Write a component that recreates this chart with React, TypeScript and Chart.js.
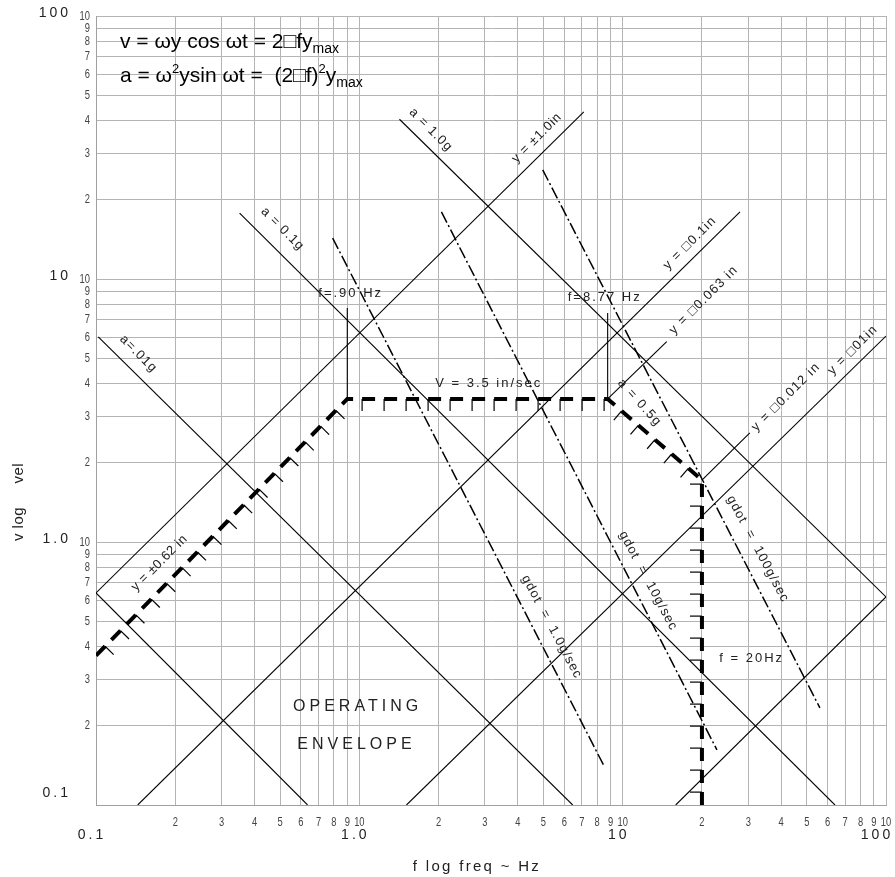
import { useEffect, useRef } from "react";
import { Chart, registerables } from "chart.js";
Chart.register(...registerables);

// ---------------- data ----------------
const DECADE_STARTS = [0.1, 1, 10];
const MINOR_MULTIPLIERS = [1, 2, 3, 4, 5, 6, 7, 8, 9];
const MINOR_TICK_LABELS = ["2", "3", "4", "5", "6", "7", "8", "9", "10"];
const MAJOR_TICK_VALUES = [0.1, 1, 10, 100];
const MAJOR_X_LABELS = ["0.1", "1.0", "10", "100"];
const MAJOR_Y_LABELS = ["0.1", "1.0", "10", "100"];

// constant displacement lines (solid)
const DISP_NAMES = ["y = ±1.0in", "y = 0.1in", "y = .01in", "y = .001in", "y = 0.063in", "y = 0.012in"];
const DISP_FREQ = [[0.1, 7.12], [0.144, 27.9], [1.51, 100], [15.9, 100], [8.77, 14.7], [20, 30.4]];
const DISP_VEL = [[0.64, 43.2], [0.1, 18.0], [0.1, 6.07], [0.1, 0.618], [3.5, 5.78], [1.72, 2.6]];

// constant acceleration lines (solid)
const ACC_NAMES = ["a = .001g", "a = .01g", "a = 0.1g", "a = 1.0g"];
const ACC_FREQ = [[0.1, 0.636], [0.102, 6.46], [0.351, 64.0], [1.42, 100]];
const ACC_VEL = [[0.64, 0.1], [6.02, 0.1], [17.8, 0.1], [40.5, 0.618]];

// constant gdot lines (dash-dot)
const JERK_NAMES = ["gdot = 1.0g/sec", "gdot = 10g/sec", "gdot = 100g/sec"];
const JERK_FREQ = [[0.792, 8.55], [2.05, 22.8], [4.97, 56.1]];
const JERK_VEL = [[14.3, 0.139], [18.0, 0.162], [26.0, 0.234]];

// frequency marker lines
const MARK_FREQ = [0.9, 8.77];
const MARK_VEL = [[3.5, 7.76], [3.5, 7.42]];

// operating envelope
const ENV_FREQ = [0.1, 0.9, 8.77, 20, 20];
const ENV_VEL = [0.37, 3.5, 3.5, 1.72, 0.1];

// annotation texts
const ANNOTATIONS = [
  { text: "a = 1.0g", f: 1.87, v: 36.9, rot: 45, sp: 1 },
  { text: "y = ±1.0in", f: 4.72, v: 34.4, rot: -45, sp: 0.8 },
  { text: "a = 0.1g", f: 0.511, v: 15.5, rot: 45, sp: 1 },
  { text: "a=.01g", f: 0.145, v: 5.19, rot: 45, sp: 1.2 },
  { text: "y = ±0.62 in", f: 0.174, v: 0.832, rot: -45, sp: 0.5 },
  { text: "f=.90 Hz", f: 0.927, v: 8.85, rot: 0, sp: 2 },
  { text: "f=8.77 Hz", f: 8.55, v: 8.54, rot: 0, sp: 2 },
  { text: "V = 3.5 in/sec", f: 3.1, v: 4.02, rot: 0, sp: 2 },
  { text: "y = □0.1in", f: 18.0, v: 13.7, rot: -45, sp: 1.2 },
  { text: "y = □0.063 in", f: 20.3, v: 8.32, rot: -45, sp: 1.2 },
  { text: "a = 0.5g", f: 11.6, v: 3.38, rot: 48, sp: 1.5 },
  { text: "y = □0.012 in", f: 41.7, v: 3.56, rot: -45, sp: 1.2 },
  { text: "y = □01in", f: 74.8, v: 5.37, rot: -45, sp: 1.2 },
  { text: "gdot  =  1.0g/sec", f: 5.38, v: 0.475, rot: 62, sp: 1.1 },
  { text: "gdot  =  10g/sec", f: 12.5, v: 0.711, rot: 62, sp: 1.1 },
  { text: "gdot  =  100g/sec", f: 32.6, v: 0.94, rot: 62, sp: 1.1 },
  { text: "f = 20Hz", f: 30.9, v: 0.362, rot: 0, sp: 2 },
];
const ENVELOPE_TEXT = [
  { text: "OPERATING", f: 0.985, v: 0.236 },
  { text: "ENVELOPE", f: 0.975, v: 0.169 },
];

const X_TITLE = "f log freq ~ Hz";
const Y_TITLE = "v log     vel";

// ---------------- helpers ----------------
const FONT = '"Liberation Sans", Arial, sans-serif';
const GRID_VALUES: number[] = [];
DECADE_STARTS.forEach((d) => MINOR_MULTIPLIERS.forEach((m) => GRID_VALUES.push(d * m)));
GRID_VALUES.push(100);

function pts(fs: number[], vs: number[]) {
  return fs.map((f, i) => ({ x: f, y: vs[i] }));
}

function txt(ctx: CanvasRenderingContext2D, s: string, x: number, y: number, o: any = {}) {
  ctx.save();
  ctx.translate(x, y);
  if (o.rot) ctx.rotate((o.rot * Math.PI) / 180);
  if (o.sx) ctx.scale(o.sx, 1);
  ctx.font = `${o.size || 13}px ${FONT}`;
  (ctx as any).letterSpacing = `${o.sp || 0}px`;
  ctx.textAlign = o.align || "center";
  ctx.textBaseline = o.base || "middle";
  ctx.fillStyle = o.color || "#222";
  ctx.fillText(s, 0, 0);
  (ctx as any).letterSpacing = "0px";
  ctx.restore();
}

function rich(ctx: CanvasRenderingContext2D, x: number, y: number, segs: [string, number, number][]) {
  ctx.save();
  ctx.fillStyle = "#000";
  ctx.textAlign = "left";
  ctx.textBaseline = "alphabetic";
  let cx = x;
  for (const [t, size, dy] of segs) {
    ctx.font = `${size}px ${FONT}`;
    ctx.fillText(t, cx, y + dy);
    cx += ctx.measureText(t).width;
  }
  ctx.restore();
}

const overlay = {
  id: "overlay",
  afterDatasetsDraw(chart: any) {
    const ctx: CanvasRenderingContext2D = chart.ctx;
    const xs = chart.scales.x;
    const ys = chart.scales.y;
    const px = (f: number) => xs.getPixelForValue(f);
    const py = (v: number) => ys.getPixelForValue(v);

    // envelope hatch ticks
    const envIdx = chart.data.datasets.findIndex((d: any) => d.label === "envelope");
    const meta = chart.getDatasetMeta(envIdx);
    const P = meta.data.map((e: any) => ({ x: e.x, y: e.y }));
    const period = 22;
    ctx.save();
    ctx.strokeStyle = "#000";
    ctx.lineWidth = 1.2;
    let s0 = 0;
    for (let i = 0; i < P.length - 1; i++) {
      const a = P[i], b = P[i + 1];
      const len = Math.hypot(b.x - a.x, b.y - a.y);
      const ux = (b.x - a.x) / len, uy = (b.y - a.y) / len;
      const nx = -uy, ny = ux;
      const phase = i === 0 ? 13 : 0;
      let k = Math.ceil((s0 - phase) / period);
      for (;; k++) {
        const s = k * period + phase;
        if (s >= s0 + len - 2) break;
        if (s < s0 + 2) continue;
        const t = s - s0;
        const qx = a.x + ux * t, qy = a.y + uy * t;
        ctx.beginPath();
        ctx.moveTo(qx, qy);
        ctx.lineTo(qx + nx * 12, qy + ny * 12);
        ctx.stroke();
      }
      s0 += len;
    }
    ctx.restore();

    // line annotations
    ANNOTATIONS.forEach((a) => txt(ctx, a.text, px(a.f), py(a.v), { rot: a.rot, sp: a.sp, size: 13 }));
    ENVELOPE_TEXT.forEach((a) => txt(ctx, a.text, px(a.f), py(a.v), { size: 16, sp: 4 }));

    // formulas
    rich(ctx, 120, 48, [["v = ωy cos ωt = 2□fy", 21, 0], ["max", 14, 5]]);
    rich(ctx, 120, 82, [
      ["a = ω", 21, 0], ["2", 13, -9], ["ysin ωt =  (2□f)", 21, 0], ["2", 13, -9], ["y", 21, 0], ["max", 14, 5],
    ]);

    // axis tick labels
    DECADE_STARTS.forEach((d) => {
      MINOR_TICK_LABELS.forEach((lab, j) => {
        const val = d * (j + 2);
        txt(ctx, lab, px(val), 822, { size: 13, sx: 0.72, color: "#444" });
        txt(ctx, lab, 90, py(val), { size: 13, sx: 0.72, color: "#444", align: "right" });
      });
    });
    MAJOR_TICK_VALUES.forEach((val, i) => {
      let cx = px(val) - 4;
      if (i === MAJOR_TICK_VALUES.length - 1) cx = px(val) - 9;
      txt(ctx, MAJOR_X_LABELS[i], cx, 835, { size: 14, sp: 3, color: "#222" });
      const yOff = i === 0 ? -12 : -3;
      txt(ctx, MAJOR_Y_LABELS[i], 71, py(val) + yOff, { size: 14, sp: 3, color: "#222", align: "right" });
    });

    // axis titles
    txt(ctx, X_TITLE, 477, 867, { size: 15, sp: 2.3, color: "#222" });
    txt(ctx, Y_TITLE, 19, 502, { size: 15, sp: 0.5, rot: -90, color: "#222" });
  },
};

export default function App() {
  const ref = useRef<HTMLCanvasElement>(null);
  useEffect(() => {
    document.body.style.margin = "0";
    const solid = { borderColor: "#000", borderWidth: 1.1, showLine: true, pointRadius: 0, fill: false };
    const datasets: any[] = [];
    DISP_NAMES.forEach((n, i) => datasets.push({ ...solid, label: n, data: pts(DISP_FREQ[i], DISP_VEL[i]) }));
    ACC_NAMES.forEach((n, i) => datasets.push({ ...solid, label: n, data: pts(ACC_FREQ[i], ACC_VEL[i]) }));
    MARK_FREQ.forEach((f, i) =>
      datasets.push({ ...solid, label: "f marker " + f, data: pts([f, f], MARK_VEL[i]) })
    );
    JERK_NAMES.forEach((n, i) =>
      datasets.push({
        ...solid,
        label: n,
        borderWidth: 1.5,
        borderDash: [12, 3, 2, 3],
        data: pts(JERK_FREQ[i], JERK_VEL[i]),
      })
    );
    datasets.push({
      ...solid,
      label: "envelope",
      borderWidth: 4,
      borderDash: [13, 9],
      borderCapStyle: "butt",
      borderJoinStyle: "miter",
      data: pts(ENV_FREQ, ENV_VEL),
    });

    const axis = (pos: string) => ({
      type: "logarithmic",
      position: pos,
      min: 0.1,
      max: 100,
      afterBuildTicks: (scale: any) => {
        scale.ticks = GRID_VALUES.map((v) => ({ value: v }));
      },
      ticks: { display: false },
      grid: { color: "#b4b4b4", lineWidth: 1, drawTicks: false },
      border: { display: true, color: "#a0a0a0", width: 1 },
      title: { display: false },
    });

    const chart = new Chart(ref.current as HTMLCanvasElement, {
      type: "scatter",
      data: { datasets },
      options: {
        responsive: false,
        devicePixelRatio: 1,
        animation: false,
        layout: { padding: { left: 96, top: 16, right: 9, bottom: 72 } },
        plugins: { legend: { display: false }, tooltip: { enabled: false } },
        scales: { x: axis("bottom") as any, y: axis("left") as any },
      },
      plugins: [overlay],
    } as any);
    return () => chart.destroy();
  }, []);
  return (
    <div style={{ width: 895, height: 877, position: "relative", background: "#fff" }}>
      <canvas ref={ref} width={895} height={877} style={{ display: "block" }} />
    </div>
  );
}
